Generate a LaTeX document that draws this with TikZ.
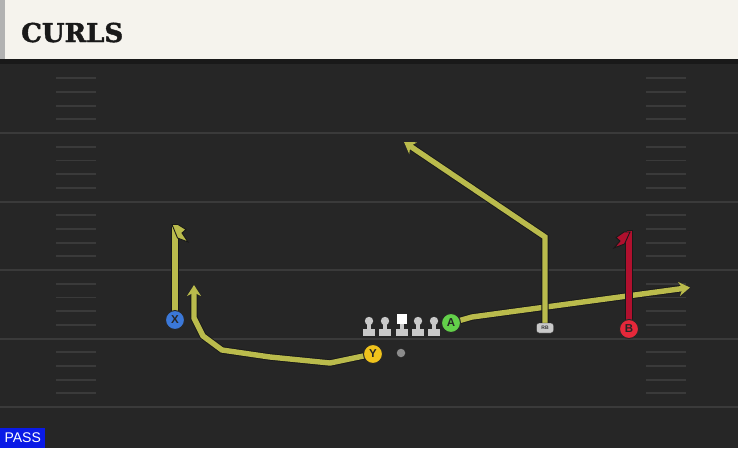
\documentclass[tikz,border=0pt]{standalone}
\usepackage{fontspec}
\setmainfont{DejaVu Serif}
\setsansfont{Liberation Sans}
\newfontfamily\titlefont{DejaVu Serif}[BoldFont=DejaVu Serif Bold, BoldFeatures={FakeBold=1.6}]
\usetikzlibrary{arrows.meta}

\definecolor{turf}{HTML}{262626}
\definecolor{header}{HTML}{F5F3ED}
\definecolor{yardline}{HTML}{3A3A3A}
\definecolor{routeyel}{HTML}{BABB4C}
\definecolor{routered}{HTML}{B0102E}
\definecolor{xblue}{HTML}{3B78D8}
\definecolor{ygold}{HTML}{F0C31C}
\definecolor{agreen}{HTML}{63D04A}
\definecolor{bred}{HTML}{E5283A}
\definecolor{passblue}{HTML}{0A1AE6}
\definecolor{olgrey}{HTML}{C9C9C9}

\pgfdeclarelayer{field}
\pgfdeclarelayer{routes}
\pgfsetlayers{field,routes,main}

\begin{document}
\begin{tikzpicture}[x=1pt, y=-1pt,
    player/.style = {circle, draw=black!85, line width=1, inner sep=0, minimum size=19,
        text=black!85, font=\sffamily\bfseries\fontsize{11.5}{11.5}\selectfont},
    route/.style = {line width=5.4, draw=routeyel, line join=miter,
        preaction={draw=black!90, line width=7.2}},
    hook/.style = {fill=routeyel, draw=black!90, line width=0.9, line join=miter},
    tip/.style = {-{Stealth[length=11, width=14, inset=3.5]}}]
    \useasboundingbox (0,0) rectangle (738,448);

    % field and header
    \begin{pgfonlayer}{field}
    \fill[turf] (0,0) rectangle (738,448);
    \fill[header] (0,0) rectangle (738,59);
    \fill[black!30!white] (0,0) rectangle (5,59);
    \fill[black!90] (0,59) rectangle (738,64);
    \foreach \n in {1,...,5}
        \draw[yardline, line width=2] (0,64.5+68.5*\n) -- (738,64.5+68.5*\n);
    \foreach \n in {0,...,4}
        \foreach \j in {1,...,4} {
            \draw[yardline, line width=1.8] (56,64.5+68.5*\n+13.7*\j) -- (96,64.5+68.5*\n+13.7*\j);
            \draw[yardline, line width=1.8] (646,64.5+68.5*\n+13.7*\j) -- (686,64.5+68.5*\n+13.7*\j);
        }
    \end{pgfonlayer}

    \node[anchor=base west, inner sep=0, text=black!90,
        font=\titlefont\bfseries\fontsize{26}{26}\selectfont] (title) at (21,42) {CURLS};
    \node[anchor=south west, fill=passblue, text=white, inner sep=0, minimum width=45,
        minimum height=20, font=\sffamily\fontsize{14}{14}\selectfont] (play) at (0,448) {PASS};

    % offensive line
    \foreach \x in {369,385,418,434} {
        \fill[olgrey] (\x-6,329) rectangle (\x+6,336);
        \fill[olgrey] (\x-2,321) rectangle (\x+2,330);
        \fill[olgrey] (\x,321) circle (4.2);
    }
    \fill[olgrey] (395.5,329) rectangle (407.5,336);
    \fill[olgrey] (399.5,322) rectangle (403.5,330);
    \fill[white] (396.5,313.5) rectangle (406.5,323.5);
    \node[circle, fill=black!45, inner sep=0, minimum size=8.5] (ball) at (401,353) {};

    % players
    \node[player, fill=xblue] (X) at (175,320) {X};
    \node[player, fill=ygold] (Y) at (373,354) {Y};
    \node[player, fill=agreen] (A) at (451,323) {A};
    \node[player, fill=bred] (B) at (629,329) {B};
    \node[rounded corners=2.5, draw=black!85, fill=olgrey, minimum width=17, minimum height=10,
        inner sep=0, text=black!80, font=\sffamily\bfseries\fontsize{5}{5}\selectfont] (RB) at (545,328) {RB};

    \coordinate (Xtop) at (175,226.5);
    \coordinate (Ytip) at (194,285);
    \coordinate (Atip) at (690,287.5);
    \coordinate (RBbreak) at (545,237);
    \coordinate (RBtip) at (404,142);
    \coordinate (Btop) at (627,233.5);

    % routes
    \begin{pgfonlayer}{routes}
    \draw[route] (X.center) -- (Xtop);
    \draw[hook] (172,224.5) -- (178,224.5) -- (186,229.5) -- (182,233) -- (188,242) -- (177.5,238) -- cycle;
    \draw[route, tip] (Y.center) -- (330,363) -- (270,357) -- (222,350) -- (203,336) -- (194,318) -- (Ytip);
    \draw[route, tip] (A.center) -- (472,317) -- (Atip);
    \draw[route, tip] (RB.center) -- (RBbreak) -- (RBtip);
    \draw[route, draw=routered] (B.center) |- (Btop);
    \draw[hook, fill=routered] (630,232) -- (624,232) -- (616,237.5) -- (620,241) -- (614,248) -- (624.5,244) -- cycle;
    \end{pgfonlayer}
\end{tikzpicture}
\end{document}
